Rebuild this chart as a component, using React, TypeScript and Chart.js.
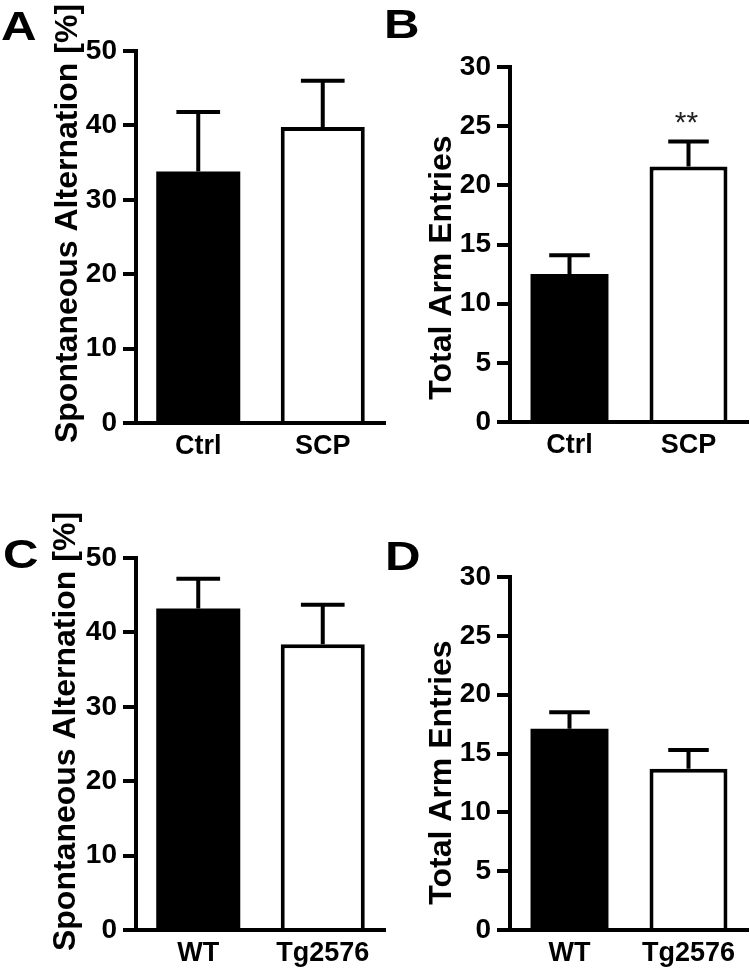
import React, { useEffect, useRef } from 'react';
import { Chart, registerables } from 'chart.js';

Chart.register(...registerables);

// ---------- data ----------
const scpGroups = ['Ctrl', 'SCP'];
const tgGroups = ['WT', 'Tg2576'];

const panelAValues = [33.8, 39.8];
const panelAErrors = [8.0, 6.2];

const panelBValues = [12.5, 21.6];
const panelBErrors = [1.6, 2.1];
const panelBStars = ['', '**'];

const panelCValues = [43.2, 38.4];
const panelCErrors = [4.0, 5.3];

const panelDValues = [17.1, 13.7];
const panelDErrors = [1.4, 1.6];

const alternationTitle = 'Spontaneous Alternation [%]';
const entriesTitle = 'Total Arm Entries';
const alternationMax = 50;
const alternationStep = 10;
const entriesMax = 30;
const entriesStep = 5;

const barColors = ['#000000', '#ffffff'];
const barBorderWidths = [0, 4];

// ---------- fonts ----------
const SANS = "'Liberation Sans', Arial, Helvetica, sans-serif";
const NARROW = "'Liberation Sans Narrow', 'Arial Narrow', 'Liberation Sans', Arial, sans-serif";

const titleShiftPlugin = {
  id: 'titleShift',
  beforeDraw(chart: any, _args: any, opts: any) {
    const s: any = chart.scales.y;
    if (!s || s.__shifted) return;
    const orig = s.drawTitle;
    const shift = opts.shift || 0;
    s.drawTitle = function () {
      const t = this.top;
      const b = this.bottom;
      this.top = t + shift;
      this.bottom = b + shift;
      try {
        orig.call(this);
      } finally {
        this.top = t;
        this.bottom = b;
      }
    };
    s.__shifted = true;
  },
};

const errorBarPlugin = {
  id: 'errorBars',
  afterDatasetsDraw(chart: any, _args: any, opts: any) {
    const { ctx } = chart;
    const meta = chart.getDatasetMeta(0);
    const yScale = chart.scales.y;
    const data = chart.data.datasets[0].data as number[];
    ctx.save();
    ctx.strokeStyle = '#000';
    ctx.lineWidth = opts.lineWidth;
    ctx.lineCap = 'butt';
    meta.data.forEach((bar: any, i: number) => {
      const err = opts.errors[i];
      const topPx = yScale.getPixelForValue(data[i] + err);
      const half = (bar.width * opts.capRatio) / 2;
      ctx.beginPath();
      ctx.moveTo(bar.x, bar.y);
      ctx.lineTo(bar.x, topPx);
      ctx.moveTo(bar.x - half, topPx);
      ctx.lineTo(bar.x + half, topPx);
      ctx.stroke();
      const star = opts.stars ? opts.stars[i] : '';
      if (star) {
        ctx.fillStyle = '#222';
        ctx.font = `normal 30px ${SANS}`;
        ctx.textAlign = 'center';
        ctx.textBaseline = 'alphabetic';
        ctx.fillText(star, bar.x - 2, topPx - 10);
      }
    });
    ctx.restore();
  },
};

type PanelProps = {
  left: number;
  top: number;
  width: number;
  height: number;
  padTop: number;
  padRight: number;
  yWidth: number;
  xHeight: number;
  titlePad: number;
  titleShift: number;
  barPct: number;
  groups: string[];
  values: number[];
  errors: number[];
  stars?: string[];
  yMax: number;
  yStep: number;
  yTitle: string;
};

function Panel(p: PanelProps) {
  const ref = useRef<HTMLCanvasElement | null>(null);
  useEffect(() => {
    if (!ref.current) return;
    const chart = new Chart(ref.current, {
      type: 'bar',
      data: {
        labels: p.groups,
        datasets: [
          {
            data: p.values,
            backgroundColor: barColors,
            borderColor: '#000',
            borderWidth: barBorderWidths,
            categoryPercentage: 1,
            barPercentage: p.barPct,
          },
        ],
      },
      plugins: [titleShiftPlugin, errorBarPlugin],
      options: {
        responsive: false,
        animation: false,
        events: [],
        layout: { padding: { top: p.padTop, right: p.padRight, left: 0, bottom: 0 } },
        plugins: {
          legend: { display: false },
          tooltip: { enabled: false },
          titleShift: { shift: p.titleShift },
          errorBars: { errors: p.errors, stars: p.stars, lineWidth: 4, capRatio: 0.52 },
        } as any,
        scales: {
          x: {
            afterFit: (s: any) => {
              s.height = p.xHeight;
            },
            grid: { display: false, drawTicks: false },
            border: { display: true, color: '#000', width: 4 },
            ticks: {
              color: '#000',
              padding: 7,
              font: { family: SANS, size: 27, weight: 'bold' },
            },
          },
          y: {
            min: 0,
            max: p.yMax,
            afterFit: (s: any) => {
              s.width = p.yWidth;
            },
            grid: {
              display: true,
              drawOnChartArea: false,
              drawTicks: true,
              tickLength: 13,
              tickWidth: 4,
              tickColor: '#000',
              color: '#000',
              lineWidth: 4,
            },
            border: { display: true, color: '#000', width: 4 },
            ticks: {
              stepSize: p.yStep,
              color: '#000',
              padding: 6,
              font: { family: NARROW, size: 28, weight: 'bold' },
            },
            title: {
              display: true,
              text: p.yTitle,
              color: '#000',
              padding: { top: p.titlePad, bottom: 0 },
              font: { family: SANS, size: 32, weight: 'bold' },
            },
          },
        },
      } as any,
    });
    return () => chart.destroy();
  }, []);
  return (
    <canvas
      ref={ref}
      width={p.width}
      height={p.height}
      style={{ position: 'absolute', left: p.left, top: p.top, width: p.width, height: p.height }}
    />
  );
}

const letterStyle: React.CSSProperties = {
  position: 'absolute',
  fontFamily: SANS,
  fontWeight: 'bold',
  fontSize: 41,
  lineHeight: 1,
  color: '#000',
  transform: 'scaleX(1.2)',
  transformOrigin: 'left top',
};

export default function App() {
  return (
    <div style={{ position: 'absolute', left: 0, top: 0, width: 750, height: 972, background: '#fff', overflow: 'hidden' }}>
      <Panel
        left={0} top={0} width={390} height={480}
        padTop={51} padRight={5} yWidth={136} xHeight={57}
        titlePad={49} titleShift={-13.5} barPct={0.675}
        groups={scpGroups} values={panelAValues} errors={panelAErrors}
        yMax={alternationMax} yStep={alternationStep} yTitle={alternationTitle}
      />
      <Panel
        left={390} top={0} width={360} height={480}
        padTop={67} padRight={2} yWidth={120} xHeight={58}
        titlePad={33} titleShift={23} barPct={0.655}
        groups={scpGroups} values={panelBValues} errors={panelBErrors} stars={panelBStars}
        yMax={entriesMax} yStep={entriesStep} yTitle={entriesTitle}
      />
      <Panel
        left={0} top={480} width={390} height={492}
        padTop={78} padRight={5} yWidth={136} xHeight={42}
        titlePad={47} titleShift={-12.5} barPct={0.675}
        groups={tgGroups} values={panelCValues} errors={panelCErrors}
        yMax={alternationMax} yStep={alternationStep} yTitle={alternationTitle}
      />
      <Panel
        left={390} top={480} width={360} height={492}
        padTop={97} padRight={2} yWidth={120} xHeight={42}
        titlePad={33} titleShift={19} barPct={0.655}
        groups={tgGroups} values={panelDValues} errors={panelDErrors}
        yMax={entriesMax} yStep={entriesStep} yTitle={entriesTitle}
      />
      <div style={{ ...letterStyle, left: 1, top: 6 }}>A</div>
      <div style={{ ...letterStyle, left: 384, top: 4 }}>B</div>
      <div style={{ ...letterStyle, left: 3, top: 534 }}>C</div>
      <div style={{ ...letterStyle, left: 385, top: 536 }}>D</div>
    </div>
  );
}
